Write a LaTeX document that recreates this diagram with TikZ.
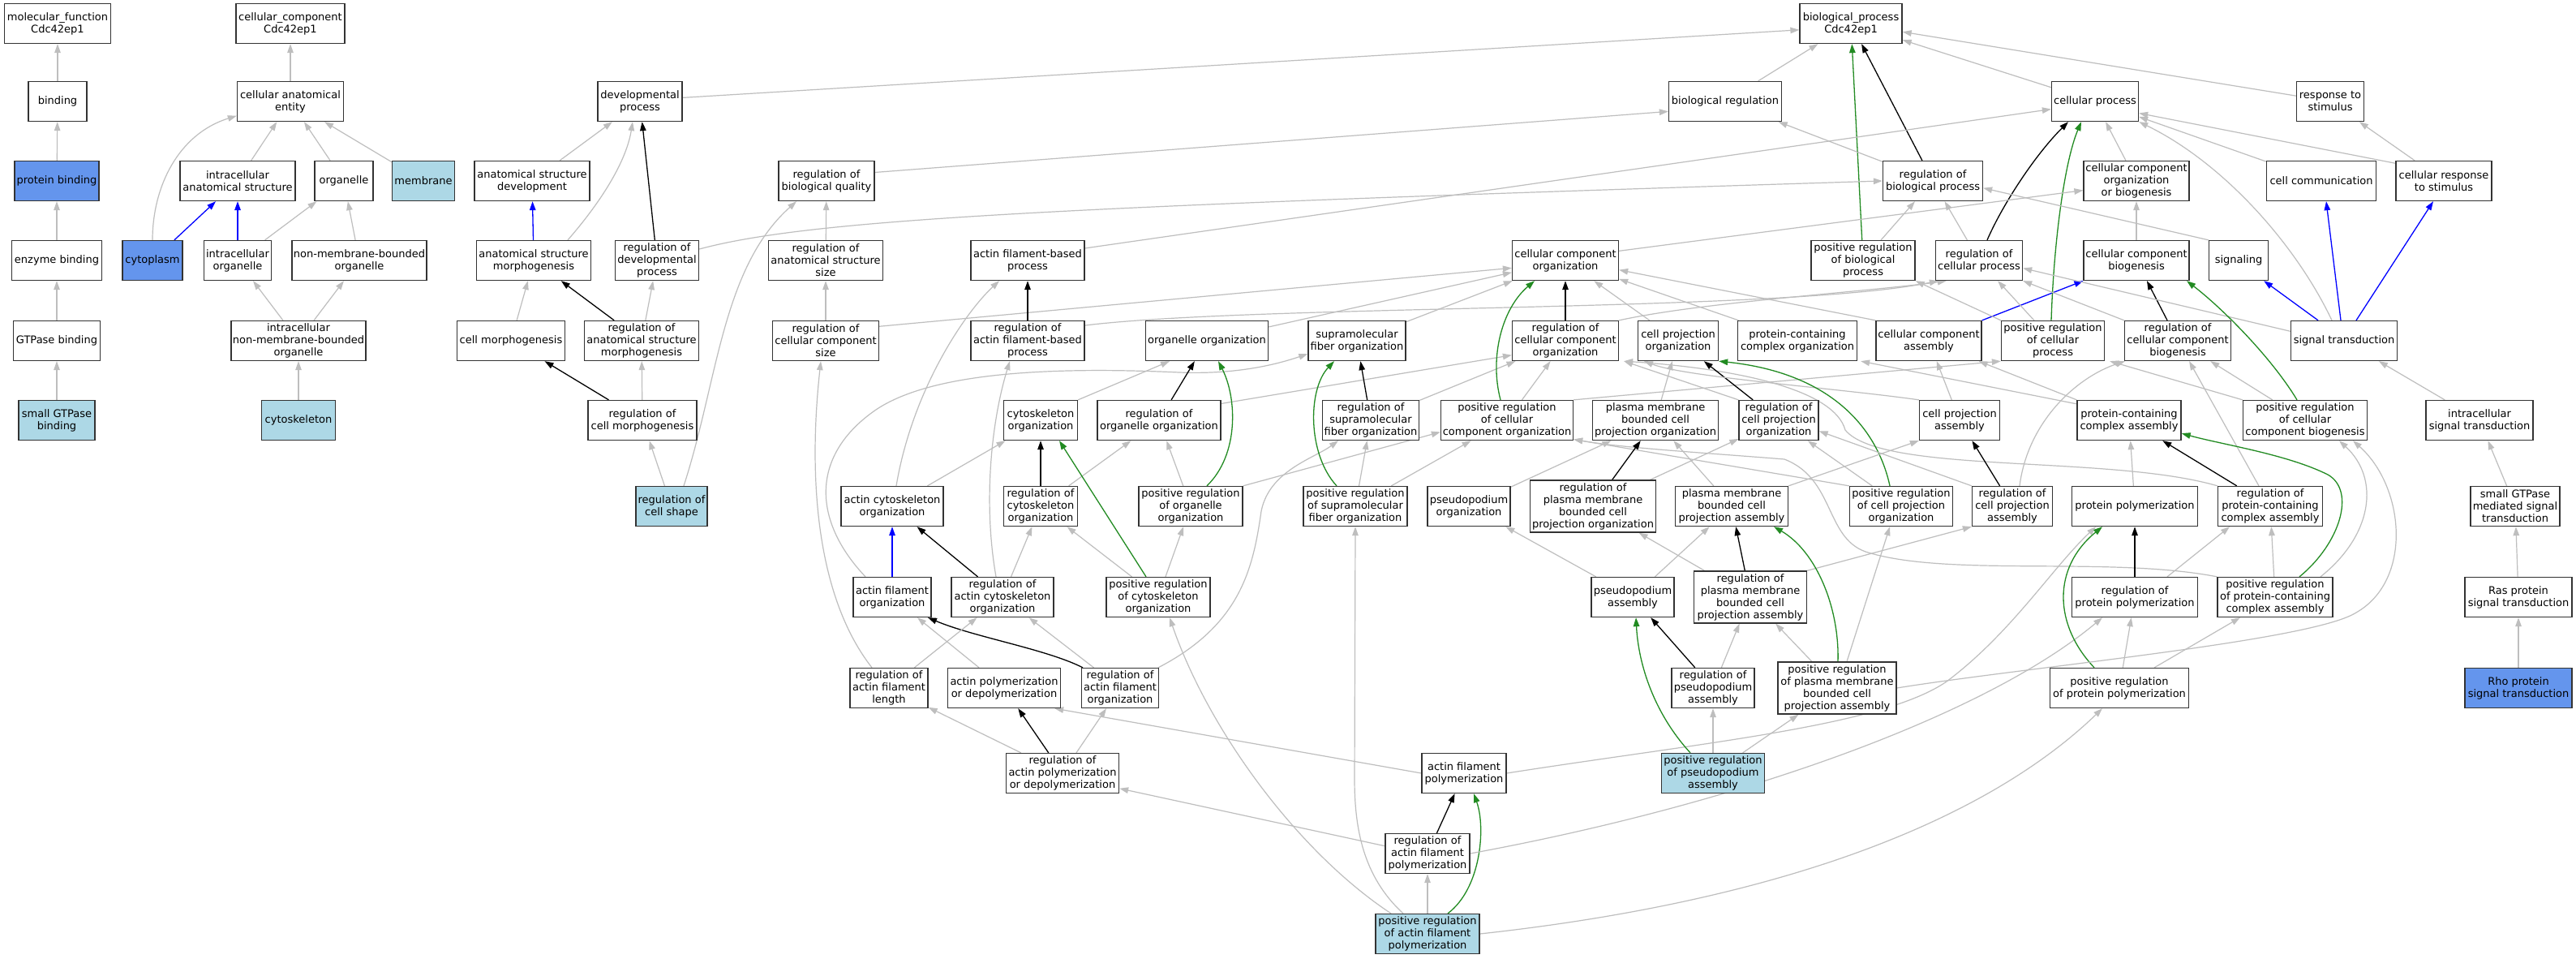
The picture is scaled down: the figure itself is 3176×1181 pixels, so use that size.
\documentclass[tikz,border=0pt]{standalone}
\usepackage{fontspec}
\setmainfont{DejaVu Sans}
\usetikzlibrary{arrows.meta}
\definecolor{eg}{HTML}{BEBEBE}
\definecolor{lb}{HTML}{ADD8E6}
\definecolor{cb}{HTML}{6495ED}
\definecolor{fg}{HTML}{228B22}
\definecolor{bd}{HTML}{333333}
\pgfdeclarelayer{bgl}
\pgfdeclarelayer{edl}
\pgfsetlayers{bgl,edl,main}
\begin{document}
\begin{tikzpicture}[x=1pt,y=-1pt,
 box/.style={draw=bd,line width=1.3pt,fill=white,inner sep=0pt,align=center,font=\fontsize{13}{15}\selectfont,minimum height=49pt},
 tall/.style={minimum height=64pt},
 lbf/.style={fill=lb}, cbf/.style={fill=cb},
 ge/.style={draw=eg,line width=1.2pt,-{Triangle[length=11pt,width=7.5pt]}},
 be/.style={draw=black,line width=1.3pt,-{Triangle[length=11pt,width=7.5pt]}},
 bl/.style={draw=blue,line width=1.3pt,-{Triangle[length=11pt,width=7.5pt]}},
 gre/.style={draw=fg,line width=1.3pt,-{Triangle[length=11pt,width=7.5pt]}}]
\begin{pgfonlayer}{bgl}
\fill[white] (0,0) rectangle (3176,1181);
\end{pgfonlayer}
\useasboundingbox (0,0) rectangle (3176,1181);
% Row A
\node[box,minimum width=131pt] (MF) at (71,29) {molecular\_function\\Cdc42ep1};
\node[box,minimum width=134pt] (CC0) at (358,29) {cellular\_component\\Cdc42ep1};
\node[box,minimum width=126pt] (BP) at (2282,29) {biological\_process\\Cdc42ep1};
% Row B
\node[box,minimum width=72pt] (bind) at (71,125) {binding};
\node[box,minimum width=131pt] (CAE) at (358,125) {cellular anatomical\\entity};
\node[box,minimum width=104pt] (DP) at (789,125) {developmental\\process};
\node[box,minimum width=139pt] (BR) at (2127,125) {biological regulation};
\node[box,minimum width=107pt] (CP) at (2583,125) {cellular process};
\node[box,minimum width=83pt] (RS) at (2873,125) {response to\\stimulus};
% Row C
\node[box,cbf,minimum width=104pt] (PB) at (70,223) {protein binding};
\node[box,minimum width=142pt] (IAS) at (293,223) {intracellular\\anatomical structure};
\node[box,minimum width=72pt] (org) at (424,223) {organelle};
\node[box,lbf,minimum width=77pt] (mem) at (522,223) {membrane};
\node[box,minimum width=142pt] (ASD) at (656,223) {anatomical structure\\development};
\node[box,minimum width=118pt] (RBQ) at (1019,223) {regulation of\\biological quality};
\node[box,minimum width=123pt] (RBP) at (2383,223) {regulation of\\biological process};
\node[box,minimum width=130pt] (CCOB) at (2634,223) {cellular component\\organization\\or biogenesis};
\node[box,minimum width=135pt] (CComm) at (2862,223) {cell communication};
\node[box,minimum width=118pt] (CRS) at (3013,223) {cellular response\\to stimulus};
% Row D
\node[box,minimum width=111pt] (EB) at (70,321) {enzyme binding};
\node[box,cbf,minimum width=74pt] (cyto) at (188,321) {cytoplasm};
\node[box,minimum width=83pt] (IO) at (293,321) {intracellular\\organelle};
\node[box,minimum width=166pt] (NMBO) at (443,321) {non-membrane-bounded\\organelle};
\node[box,minimum width=141pt] (ASM) at (658,321) {anatomical structure\\morphogenesis};
\node[box,minimum width=103pt] (RDP) at (810,321) {regulation of\\developmental\\process};
\node[box,minimum width=141pt] (RASS) at (1018,321) {regulation of\\anatomical structure\\size};
\node[box,minimum width=140pt] (AFBP) at (1267,321) {actin filament-based\\process};
\node[box,minimum width=131pt] (CCO) at (1930,321) {cellular component\\organization};
\node[box,minimum width=128pt] (PRBP) at (2297,321) {positive regulation\\of biological\\process};
\node[box,minimum width=107pt] (RCP) at (2440,321) {regulation of\\cellular process};
\node[box,minimum width=130pt] (CCB) at (2634,321) {cellular component\\biogenesis};
\node[box,minimum width=73pt] (sig) at (2760,321) {signaling};
% Row E
\node[box,minimum width=107pt] (GB) at (70,420) {GTPase binding};
\node[box,minimum width=166pt] (INMBO) at (368,420) {intracellular\\non-membrane-bounded\\organelle};
\node[box,minimum width=133pt] (CM) at (630,420) {cell morphogenesis};
\node[box,minimum width=141pt] (RASM) at (791,420) {regulation of\\anatomical structure\\morphogenesis};
\node[box,minimum width=131pt] (RCCS) at (1018,420) {regulation of\\cellular component\\size};
\node[box,minimum width=140pt] (RAFBP) at (1267,420) {regulation of\\actin filament-based\\process};
\node[box,minimum width=151pt] (OO) at (1488,420) {organelle organization};
\node[box,minimum width=120pt] (SFO) at (1673,420) {supramolecular\\fiber organization};
\node[box,minimum width=131pt] (RCCO) at (1930,420) {regulation of\\cellular component\\organization};
\node[box,minimum width=99pt] (CPO) at (2069,420) {cell projection\\organization};
\node[box,minimum width=147pt] (PCO) at (2216,420) {protein-containing\\complex organization};
\node[box,minimum width=130pt] (CCA) at (2378,420) {cellular component\\assembly};
\node[box,minimum width=127pt] (PRCP) at (2531,420) {positive regulation\\of cellular\\process};
\node[box,minimum width=131pt] (RCCB) at (2685,420) {regulation of\\cellular component\\biogenesis};
\node[box,minimum width=131pt] (ST) at (2890,420) {signal transduction};
% Row F
\node[box,lbf,minimum width=94pt] (SGB) at (70,518) {small GTPase\\binding};
\node[box,lbf,minimum width=91pt] (cysk) at (368,518) {cytoskeleton};
\node[box,minimum width=134pt] (RCM) at (792,518) {regulation of\\cell morphogenesis};
\node[box,minimum width=91pt] (CO) at (1283,518) {cytoskeleton\\organization};
\node[box,minimum width=152pt] (ROO) at (1429,518) {regulation of\\organelle organization};
\node[box,minimum width=119pt] (RSFO) at (1690,518) {regulation of\\supramolecular\\fiber organization};
\node[box,minimum width=163pt] (PRCCO) at (1858,518) {positive regulation\\of cellular\\component organization};
\node[box,minimum width=155pt] (PMBCPO) at (2041,518) {plasma membrane\\bounded cell\\projection organization};
\node[box,minimum width=98pt] (RCPO) at (2193,518) {regulation of\\cell projection\\organization};
\node[box,minimum width=99pt] (CPA) at (2416,518) {cell projection\\assembly};
\node[box,minimum width=128pt] (PCCA) at (2625,518) {protein-containing\\complex assembly};
\node[box,minimum width=153pt] (PRCCB) at (2842,518) {positive regulation\\of cellular\\component biogenesis};
\node[box,minimum width=132pt] (IST) at (3057,518) {intracellular\\signal transduction};
% Row G
\node[box,lbf,minimum width=88pt] (RCS) at (828,624) {regulation of\\cell shape};
\node[box,minimum width=126pt] (ACO) at (1100,624) {actin cytoskeleton\\organization};
\node[box,minimum width=91pt] (RCO) at (1283,624) {regulation of\\cytoskeleton\\organization};
\node[box,minimum width=128pt] (PROO) at (1468,624) {positive regulation\\of organelle\\organization};
\node[box,minimum width=128pt] (PRSFO) at (1671,624) {positive regulation\\of supramolecular\\fiber organization};
\node[box,minimum width=102pt] (PO) at (1811,624) {pseudopodium\\organization};
\node[box,tall,minimum width=155pt] (RPMBCPO) at (1964,624) {regulation of\\plasma membrane\\bounded cell\\projection organization};
\node[box,minimum width=139pt] (PMBCPA) at (2135,624) {plasma membrane\\bounded cell\\projection assembly};
\node[box,minimum width=127pt] (PRCPO) at (2344,624) {positive regulation\\of cell projection\\organization};
\node[box,minimum width=99pt] (RCPA) at (2481,624) {regulation of\\cell projection\\assembly};
\node[box,minimum width=155pt] (PP) at (2632,624) {protein polymerization};
\node[box,minimum width=129pt] (RPCCA) at (2799,624) {regulation of\\protein-containing\\complex assembly};
\node[box,minimum width=110pt] (SGMST) at (3101,624) {small GTPase\\mediated signal\\transduction};
% Row H
\node[box,minimum width=96pt] (AFO) at (1100,736) {actin filament\\organization};
\node[box,minimum width=126pt] (RACO) at (1236,736) {regulation of\\actin cytoskeleton\\organization};
\node[box,minimum width=128pt] (PRCO) at (1428,736) {positive regulation\\of cytoskeleton\\organization};
\node[box,minimum width=102pt] (PsA) at (2013,736) {pseudopodium\\assembly};
\node[box,tall,minimum width=139pt] (RPMBCPA) at (2158,736) {regulation of\\plasma membrane\\bounded cell\\projection assembly};
\node[box,minimum width=155pt] (RPP) at (2632,736) {regulation of\\protein polymerization};
\node[box,minimum width=142pt] (PRPCCA) at (2805,736) {positive regulation\\of protein-containing\\complex assembly};
\node[box,minimum width=132pt] (RPST) at (3105,736) {Ras protein\\signal transduction};
% Row I
\node[box,minimum width=96pt] (RAFL) at (1096,848) {regulation of\\actin filament\\length};
\node[box,minimum width=139pt] (APD) at (1238,848) {actin polymerization\\or depolymerization};
\node[box,minimum width=95pt] (RAFO) at (1381,848) {regulation of\\actin filament\\organization};
\node[box,minimum width=102pt] (RPA) at (2112,848) {regulation of\\pseudopodium\\assembly};
\node[box,tall,minimum width=146pt] (PRPMBCPA) at (2265,848) {positive regulation\\of plasma membrane\\bounded cell\\projection assembly};
\node[box,minimum width=171pt] (PRPP) at (2613,848) {positive regulation\\of protein polymerization};
\node[box,cbf,minimum width=132pt] (RhoST) at (3105,848) {Rho protein\\signal transduction};
% Row J
\node[box,minimum width=139pt] (RAPD) at (1310,953) {regulation of\\actin polymerization\\or depolymerization};
\node[box,minimum width=104pt] (AFP) at (1805,953) {actin filament\\polymerization};
\node[box,lbf,minimum width=127pt] (PRPA) at (2112,953) {positive regulation\\of pseudopodium\\assembly};
% Row K, L
\node[box,minimum width=104pt] (RAFP) at (1760,1052) {regulation of\\actin filament\\polymerization};
\node[box,lbf,minimum width=128pt] (PRAFP) at (1760,1151) {positive regulation\\of actin filament\\polymerization};

\begin{pgfonlayer}{edl}
% molecular function
\draw[ge] (bind) -- (MF);
\draw[ge] (PB) -- (bind);
\draw[ge] (EB) -- (PB);
\draw[ge] (GB) -- (EB);
\draw[ge] (SGB) -- (GB);
% cellular component
\draw[ge] (CAE) -- (CC0);
\draw[ge] (IAS) -- (CAE);
\draw[ge] (org) -- (CAE);
\draw[ge] (mem) -- (CAE);
\draw[ge] (cyto.north) .. controls (188,230) and (220,165) .. (CAE.195);
\draw[bl] (cyto) -- (IAS);
\draw[bl] (IO) -- (IAS);
\draw[ge] (IO) -- (org);
\draw[ge] (NMBO) -- (org);
\draw[ge] (INMBO) -- (IO);
\draw[ge] (INMBO) -- (NMBO);
\draw[ge] (cysk) -- (INMBO);
% biological process
\draw[ge] (DP.5) -- (BP.187);
\draw[ge] (BR) -- (BP);
\draw[ge] (CP) -- (BP);
\draw[ge] (RS) -- (BP);
\draw[be] (RBP) -- (BP);
\draw[gre] (PRBP) -- (BP);
\draw[ge] (RBP) -- (BR);
\draw[ge] (ASD) -- (DP);
\draw[ge] ([xshift=42pt]ASM.north) .. controls (740,250) and (772,200) .. ([xshift=-9pt]DP.south);
\draw[be] (RDP) -- (DP);
\draw[bl] (ASM) -- (ASD);
\draw[ge] (CM) -- (ASM);
\draw[be] (RASM) -- (ASM);
\draw[ge] (RASM) -- (RDP);
\draw[be] (RCM) -- (CM);
\draw[ge] (RCM) -- (RASM);
\draw[ge] (RCS) -- (RCM);
\draw[ge] ([xshift=15pt]RCS.north) .. controls (885,470) and (890,330) .. ([xshift=-37pt]RBQ.south);
\draw[ge] (RBQ.10) -- (BR.190);
\draw[ge] (RDP.15) .. controls (1000,270) and (1300,255) .. (RBP.west);
\draw[ge] (RASS) -- (RBQ);
\draw[ge] (RCCS) -- (RASS);
\draw[ge] (RCCS.15) -- (CCO.188);
\draw[ge] (AFBP.12) -- (CP.190);
\draw[be] (RAFBP) -- (AFBP);
\draw[ge] (RAFBP.15) .. controls (1550,375) and (2200,385) .. ([xshift=4pt]RCP.south west);
\draw[ge] (RCCO.north east) .. controls (2100,372) and (2300,360) .. ([xshift=14pt]RCP.south west);
\draw[ge] ([xshift=5pt]ACO.north) .. controls (1125,480) and (1190,385) .. ([xshift=-35pt]AFBP.south);
\draw[ge] (ACO) -- (CO);
\draw[ge] ([xshift=-8pt]RACO.north) .. controls (1212,620) and (1222,520) .. ([xshift=-22pt]RAFBP.south);
\draw[bl] (AFO) -- (ACO);
\draw[ge] ([xshift=-33pt]AFO.north) .. controls (1000,640) and (1000,560) .. (1080,505) .. controls (1150,458) and (1300,452) .. (1454,459) .. controls (1530,462) and (1580,447) .. (SFO.195);
\draw[be] (RACO) -- (ACO);
\draw[ge] (RACO) -- (RCO);
\draw[be] (RCO) -- (CO);
\draw[ge] (RCO) -- (ROO);
\draw[ge] (CO.north east) -- ([xshift=-46pt]OO.south);
\draw[be] (ROO) -- (OO);
\draw[ge] (ROO.15) -- (RCCO.195);
\draw[gre] ([xshift=20pt]PROO.north) .. controls (1528,560) and (1525,490) .. ([xshift=14pt]OO.south);
\draw[ge] (PROO) -- (ROO);
\draw[ge] (PROO.north east) -- (PRCCO.190);
\draw[gre] ([xshift=-15pt]PRCO.north) -- ([xshift=23pt]CO.south);
\draw[ge] (PRCO) -- (RCO);
\draw[ge] (PRCO) -- (PROO);
\draw[be] ([xshift=-46pt]RAFO.north) .. controls (1290,800) and (1200,785) .. ([xshift=44pt]AFO.south);
\draw[ge] (RAFO) -- (RACO);
\draw[ge] ([xshift=47pt]RAFO.north) .. controls (1530,770) and (1545,700) .. (1555,630) .. controls (1565,580) and (1620,565) .. ([xshift=-40pt]RSFO.south);
\draw[ge] (RAFL) -- (RACO);
\draw[ge] ([xshift=-21pt]RAFL.north) .. controls (1010,740) and (995,600) .. ([xshift=-6pt]RCCS.south);
\draw[ge] (APD) -- (AFO);
\draw[be] (RAPD) -- (APD);
\draw[ge] (RAPD) -- (RAFL);
\draw[ge] (RAPD) -- (RAFO);
\draw[ge] (AFP.west) -- ([xshift=-8pt]APD.south east);
\draw[ge] (AFP.east) .. controls (2100,915) and (2320,895) .. (2400,840) .. controls (2480,780) and (2530,700) .. ([xshift=-48pt]PP.south);
\draw[be] (RAFP) -- (AFP);
\draw[gre] ([xshift=25pt]PRAFP.north) .. controls (1826,1095) and (1832,1020) .. ([xshift=12pt]AFP.south);
\draw[ge] (RAFP.170) -- (RAPD.-15);
\draw[ge] (RAFP.east) .. controls (2150,990) and (2450,880) .. ([xshift=-40pt]RPP.south);
\draw[ge] (PRAFP) -- (RAFP);
\draw[ge] ([xshift=-45pt]PRAFP.north) .. controls (1600,1050) and (1490,900) .. ([xshift=14pt]PRCO.south);
\draw[ge] ([xshift=-30pt]PRAFP.north) .. controls (1680,1080) and (1670,1020) .. (1670,960) -- (PRSFO.south);
\draw[ge] (PRAFP.east) .. controls (2200,1110) and (2450,1010) .. ([xshift=-21pt]PRPP.south);
\draw[gre] ([xshift=-23pt]PRSFO.north) .. controls (1612,560) and (1612,480) .. ([xshift=-28pt]SFO.south);
\draw[ge] (PRSFO) -- (RSFO);
\draw[ge] (PRSFO) -- (PRCCO);
\draw[be] (RSFO) -- (SFO);
\draw[ge] (RSFO) -- (RCCO);
\draw[ge] (SFO) -- (CCO);
\draw[ge] (OO) -- (CCO);
\draw[be] (RCCO) -- (CCO);
\draw[gre] ([xshift=-8pt]PRCCO.north) .. controls (1836,440) and (1852,380) .. ([xshift=-38pt]CCO.south);
\draw[ge] (PRCCO) -- (RCCO);
\draw[ge] (PRCCO.north east) -- (PRCP.south west);
\draw[ge] (CPO) -- (CCO);
\draw[ge] (PCO) -- (CCO);
\draw[ge] (CCA.north west) -- (CCO.-10);
\draw[bl] (CCA.north east) -- (CCB.south west);
\draw[gre] ([xshift=-2pt]PRCP.north) .. controls (2532,300) and (2545,200) .. ([xshift=-17pt]CP.south);
\draw[ge] (PRCP) -- (RCP);
\draw[ge] (PRCP.north west) -- (PRBP.south east);
\draw[be] (RCCB) -- (CCB);
\draw[ge] (RCCB.north west) -- (RCP.south east);
\draw[be] ([xshift=10pt]RCP.north) .. controls (2470,250) and (2510,190) .. ([xshift=-33pt]CP.south);
\draw[ge] (RCP) -- (RBP);
\draw[ge] (PRBP) -- (RBP);
\draw[ge] (CCOB) -- (CP);
\draw[ge] (CCB) -- (CCOB);
\draw[ge] (CCO.10) -- (CCOB.190);
\draw[ge] (sig.north west) -- (RBP.-8);
\draw[ge] ([xshift=-15pt]ST.north) .. controls (2830,300) and (2740,200) .. (CP.south east);
\draw[bl] ([xshift=-4pt]ST.north) -- ([xshift=6pt]CComm.south);
\draw[bl] ([xshift=15pt]ST.north) -- ([xshift=-13pt]CRS.south);
\draw[bl] ([xshift=-32pt]ST.north) -- ([xshift=-6pt]sig.south east);
\draw[ge] (ST.170) -- (RCP.-10);
\draw[ge] (CComm) -- (CP);
\draw[ge] (CRS.160) -- (CP.-15);
\draw[ge] (CRS) -- (RS);
\draw[ge] (IST) -- (ST);
\draw[ge] (SGMST) -- (IST);
\draw[ge] (RPST) -- (SGMST);
\draw[ge] (RhoST) -- (RPST);
\draw[gre] ([xshift=-10pt]PRCCB.north) .. controls (2800,440) and (2740,380) .. ([xshift=62pt]CCB.south);
\draw[ge] (PRCCB) -- (RCCB);
\draw[ge] (PRCCB.north west) -- ([xshift=6pt]PRCP.south east);
\draw[ge] (CPA) -- (CCA);
\draw[ge] (PCCA.north west) -- ([xshift=-4pt]CCA.south east);
\draw[ge] ([yshift=-5pt]PCCA.north west) -- ([xshift=4pt]PCO.south east);
\draw[ge] (PP) -- (PCCA);
\draw[be] (RPCCA) -- (PCCA);
\draw[ge] (RPCCA) -- (RCCB);
\draw[ge] (RPCCA.north west) .. controls (2600,560) and (2320,585) .. (2275,530) .. controls (2262,482) and (2150,455) .. ([xshift=6pt]RCCO.south east);
\draw[gre] ([xshift=30pt]PRPCCA.north) .. controls (2885,670) and (2905,605) .. (2870,585) .. controls (2820,560) and (2740,548) .. (PCCA.-14);
\draw[ge] (PRPCCA) -- (RPCCA);
\draw[ge] ([xshift=56pt]PRPCCA.north) .. controls (2925,660) and (2935,590) .. ([xshift=42pt]PRCCB.south);
\draw[ge] (PRPCCA.north west) .. controls (2600,685) and (2400,712) .. (2300,680) .. controls (2250,662) and (2262,590) .. (2200,566) .. controls (2100,558) and (2000,552) .. (PRCCO.-16);
\draw[be] (RPP) -- (PP);
\draw[ge] ([xshift=40pt]RPP.north) -- ([xshift=-50pt]RPCCA.south);
\draw[gre] ([xshift=-31pt]PRPP.north) .. controls (2532,770) and (2530,700) .. ([xshift=-40pt]PP.south);
\draw[ge] (PRPP) -- (RPP);
\draw[ge] (PRPP) -- (PRPCCA);
\draw[ge] (PMBCPO) -- (CPO);
\draw[be] (RCPO) -- (CPO);
\draw[ge] (RCPO.north west) -- ([xshift=6pt]RCCO.south east);
\draw[ge] (CPA.north west) .. controls (2260,478) and (2080,465) .. ([xshift=8pt]CPO.south west);
\draw[gre] ([xshift=-14pt]PRCPO.north) .. controls (2315,530) and (2260,460) .. (CPO.south east);
\draw[ge] (PRCPO) -- (RCPO);
\draw[ge] (PRCPO.north west) -- (PRCCO.-16);
\draw[be] (RCPA) -- (CPA);
\draw[ge] (RCPA.north west) -- (RCPO.-15);
\draw[ge] ([xshift=9pt]RCPA.north) .. controls (2500,520) and (2560,465) .. ([xshift=-65pt]RCCB.south);
\draw[ge] (PO) -- (PMBCPO);
\draw[be] (RPMBCPO) -- (PMBCPO);
\draw[ge] (RPMBCPO) -- (RCPO);
\draw[ge] (PMBCPA) -- (PMBCPO);
\draw[ge] (PMBCPA.north east) -- (CPA.south west);
\draw[ge] (PsA) -- (PO);
\draw[ge] (PsA) -- (PMBCPA);
\draw[be] (RPMBCPA) -- (PMBCPA);
\draw[ge] (RPMBCPA) -- (RPMBCPO);
\draw[ge] (RPMBCPA.north east) -- (RCPA.south west);
\draw[gre] ([xshift=1pt]PRPMBCPA.north) .. controls (2268,750) and (2240,680) .. ([xshift=52pt]PMBCPA.south);
\draw[ge] (PRPMBCPA) -- (RPMBCPA);
\draw[ge] ([xshift=12pt]PRPMBCPA.north) -- ([xshift=-14pt]PRCPO.south);
\draw[ge] (PRPMBCPA.east) .. controls (2500,822) and (2850,790) .. (2905,755) .. controls (2975,715) and (2965,600) .. ([xshift=59pt]PRCCB.south);
\draw[be] (RPA) -- (PsA);
\draw[ge] (RPA) -- (RPMBCPA);
\draw[gre] ([xshift=-28pt]PRPA.north) .. controls (2040,880) and (2020,820) .. ([xshift=4pt]PsA.south);
\draw[ge] (PRPA) -- (RPA);
\draw[ge] (PRPA) -- (PRPMBCPA);
\end{pgfonlayer}
\end{tikzpicture}
\end{document}
